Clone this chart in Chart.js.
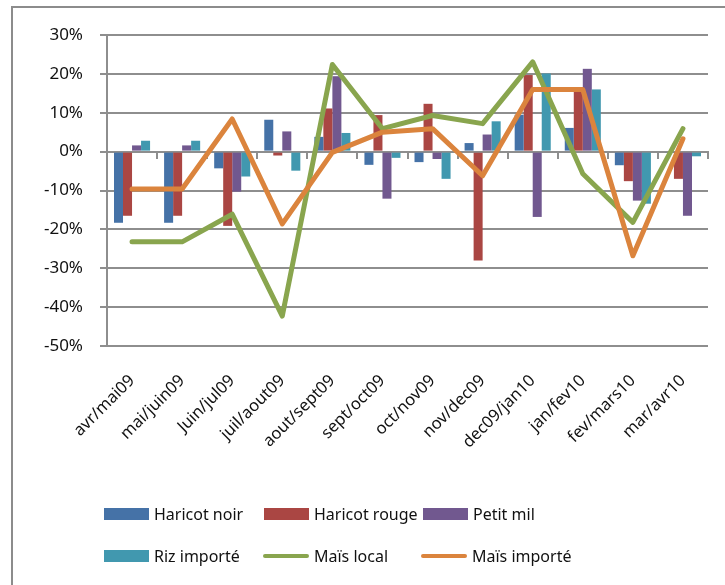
<!DOCTYPE html>
<html>
<head>
<meta charset="utf-8">
<script src="https://cdn.jsdelivr.net/npm/chart.js@4"></script>
<style>
  body { margin: 0; background: #fff; font-family: "Noto Sans", sans-serif; }
  #frame { position: absolute; left: 11px; top: 6px; width: 714px; height: 579px;
           border-left: 2px solid #8c8c8c; border-top: 2px solid #8c8c8c; box-sizing: border-box; }
  #chart { position: absolute; left: 0; top: 0; }
  .leg { position: absolute; display: flex; align-items: center; font-size: 16px; color: #111; white-space: nowrap; }
  .leg .box { width: 45px; height: 12px; margin-right: 5px; }
  .leg .line { width: 46px; height: 4px; border-radius: 2px; margin-right: 5px; }
</style>
</head>
<body>
<div id="frame"></div>
<canvas id="chart" width="725" height="585"></canvas>
<div id="legend"></div>
<script>
// categories (month pairs)
const categories = ['avr/mai09', 'mai/juin09', 'Juin/jul09', 'juil/aout09', 'aout/sept09', 'sept/oct09',
    'oct/nov09', 'nov/dec09', 'dec09/jan10', 'jan/fev10', 'fev/mars10', 'mar/avr10'];

// price variations in %
const haricotNoir = [-18.3, -18.3, -4.3, 8.2, 3.8, -3.4, -2.7, 2.2, 9.5, 6.1, -3.5, -0.3];
const haricotRouge = [-16.5, -16.5, -19.1, -1.0, 11.1, 9.4, 12.3, -28.0, 19.7, 15.5, -7.6, -7.0];
const petitMil = [1.6, 1.6, -10.3, 5.2, 19.4, -12.1, -1.9, 4.4, -16.8, 21.3, -12.6, -16.5];
const rizImporte = [2.8, 2.8, -6.4, -4.9, 4.8, -1.6, -7.0, 7.8, 20.1, 16.0, -13.4, -1.2];
const maisLocal = [-23.2, -23.2, -16.1, -42.3, 22.4, 5.9, 9.3, 7.2, 23.1, -5.7, -18.2, 5.9];
const maisImporte = [-9.6, -9.6, 8.4, -18.6, -0.2, 5.0, 5.9, -6.2, 16.0, 16.0, -26.8, 3.3];

const yTicks = [-50, -40, -30, -20, -10, 0, 10, 20, 30];

const gridColor = '#8e8e8e';
const font = { family: 'Noto Sans', size: 17 };

const ctx = document.getElementById('chart').getContext('2d');
const chart = new Chart(ctx, {
    type: 'bar',
    data: {
        labels: categories,
        datasets: [
            { type: 'line', label: 'Maïs importé', data: maisImporte, borderColor: '#DB843D', borderWidth: 5,
              pointRadius: 0, borderCapStyle: 'round', borderJoinStyle: 'round', order: 0 },
            { type: 'line', label: 'Maïs local', data: maisLocal, borderColor: '#89A54E', borderWidth: 5,
              pointRadius: 0, borderCapStyle: 'round', borderJoinStyle: 'round', order: 1 },
            { label: 'Haricot noir', data: haricotNoir, backgroundColor: '#4572A7', order: 2 },
            { label: 'Haricot rouge', data: haricotRouge, backgroundColor: '#AA4643', order: 3 },
            { label: 'Petit mil', data: petitMil, backgroundColor: '#71588F', order: 4 },
            { label: 'Riz importé', data: rizImporte, backgroundColor: '#4198AF', order: 5 }
        ]
    },
    options: {
        responsive: false,
        animation: false,
        layout: { padding: { left: 0, right: 17, top: 35, bottom: 129 } },
        datasets: { bar: { categoryPercentage: 0.72, barPercentage: 1.0 } },
        plugins: { legend: { display: false }, tooltip: { enabled: false } },
        scales: {
            x: {
                position: 'bottom',
                offset: true,
                grid: { display: false },
                border: { display: false },
                ticks: { color: '#111', font: { family: 'Noto Sans', size: 16.5 }, minRotation: 45, maxRotation: 45, padding: 17, autoSkip: false },
                afterFit: (scale) => { scale.height = 110; }
            },
            x0: {
                axis: 'x',
                type: 'category',
                position: { y: 0 },
                offset: true,
                grid: { offset: true, drawOnChartArea: false, drawTicks: true, tickLength: 6, color: gridColor, lineWidth: 2 },
                border: { color: gridColor, width: 2 },
                ticks: { display: false }
            },
            y: {
                min: -50,
                max: 30,
                afterBuildTicks: (scale) => { scale.ticks = yTicks.map(v => ({ value: v })); },
                grid: { color: gridColor, lineWidth: 2, tickLength: 7 },
                border: { color: gridColor, width: 2 },
                ticks: { color: '#111', font: font, padding: 17, callback: (v) => v + '%' },
                afterFit: (scale) => { scale.width = 107; }
            }
        }
    }
});

// legend laid out in 3 columns like the original
const legendItems = [
    { label: 'Haricot noir', color: '#4572A7', kind: 'box', x: 104, y: 514 },
    { label: 'Haricot rouge', color: '#AA4643', kind: 'box', x: 264, y: 514 },
    { label: 'Petit mil', color: '#71588F', kind: 'box', x: 423, y: 514 },
    { label: 'Riz importé', color: '#4198AF', kind: 'box', x: 104, y: 556 },
    { label: 'Maïs local', color: '#89A54E', kind: 'line', x: 263, y: 556 },
    { label: 'Maïs importé', color: '#DB843D', kind: 'line', x: 421, y: 556 }
];
const legend = document.getElementById('legend');
legendItems.forEach(item => {
    const el = document.createElement('div');
    el.className = 'leg';
    el.style.left = item.x + 'px';
    el.style.top = (item.y - 12) + 'px';
    el.style.height = '24px';
    const mark = document.createElement('span');
    mark.className = item.kind;
    mark.style.background = item.color;
    const txt = document.createElement('span');
    txt.textContent = item.label;
    el.appendChild(mark);
    el.appendChild(txt);
    legend.appendChild(el);
});
</script>
</body>
</html>
